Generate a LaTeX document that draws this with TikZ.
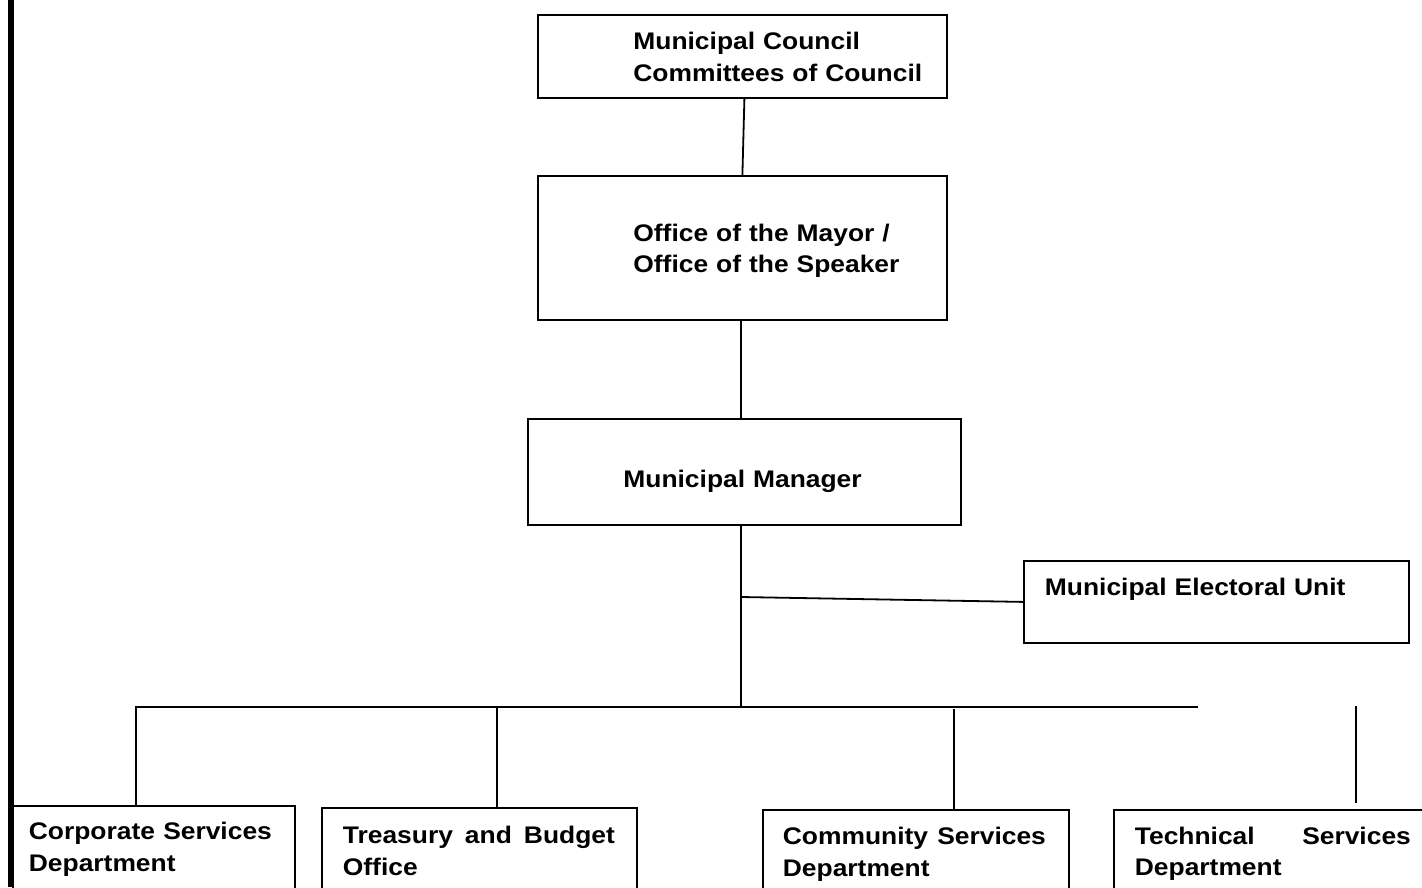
\documentclass[tikz,border=0pt]{standalone}
\usepackage{fontspec}
\setmainfont{Liberation Sans}[FakeStretch=1.1]

\begin{document}
\begin{tikzpicture}[x=1pt, y=-1pt, line width=1.8pt,
    box/.style={draw, rectangle, anchor=north west, inner sep=0pt},
    lbl/.style={anchor=base west, inner sep=0pt, align=left,
                font=\bfseries\fontsize{24}{31.5}\selectfont},
 ]
\clip (0,0) rectangle (1422,887);
% margin rule on the left
\fill (8,0) rectangle (14,887);

% boxes
\node[box, minimum width=409pt, minimum height=83pt] (council) at (537,14) {};
\node[box, minimum width=409pt, minimum height=144pt] (mayor) at (537,175) {};
\node[box, minimum width=433pt, minimum height=106pt] (manager) at (527,418) {};
\node[box, minimum width=385pt, minimum height=82pt] (elec) at (1023,560) {};
\node[box, minimum width=282pt, minimum height=120pt] (corp) at (12,805) {};
\node[box, minimum width=315pt, minimum height=120pt] (treas) at (321,807) {};
\node[box, minimum width=306pt, minimum height=120pt] (comm) at (762,809) {};
\node[box, minimum width=330pt, minimum height=120pt] (tech) at (1113,809) {};

% texts
\node[lbl, text width=330pt] (councilT) at (632.5,49.5) {Municipal Council\\Committees of Council};
\node[lbl, text width=330pt] (mayorT) at (632.5,241) {Office of the Mayor /\\Office of the Speaker};
\node[lbl, text width=300pt] (managerT) at (622.5,487) {Municipal Manager};
\node[lbl, text width=330pt] (elecT) at (1044,595) {Municipal Electoral Unit};
\node[lbl, text width=243pt] (corpT) at (28,839.5) {Corporate\hfill Services\\Department};
\node[lbl, text width=272pt] (treasT) at (342,843.5) {Treasury\hfill and\hfill Budget\\Office};
\node[lbl, text width=263pt] (commT) at (782,844.5) {Community\hfill Services\\Department};
\node[lbl, text width=276pt] (techT) at (1134,844) {Technical\hfill Services\\Department};

% connectors
\coordinate (hub) at (741,708);
\coordinate (tap) at (741,597);
\draw ([xshift=2pt]council.south) -- (mayor.north);
\draw (mayor.south -| hub) -- (manager.north -| hub);
\draw (manager.south -| hub) -- (hub);
\draw (tap) -- (elec.west);

\coordinate (busL) at (135,707);
\coordinate (busR) at (1198,707);
\draw (busL) -- (busR);
\foreach \n/\x/\y in {corp/136/707, treas/497/707, comm/954/709}
    \coordinate (d\n) at (\x,\y);
\foreach \n in {corp, treas, comm}
    \draw (d\n) -- (d\n |- \n.north);
\coordinate (dtech) at (1356,706);
\draw (dtech) -- ([yshift=6pt]dtech |- tech.north);
\end{tikzpicture}
\end{document}
